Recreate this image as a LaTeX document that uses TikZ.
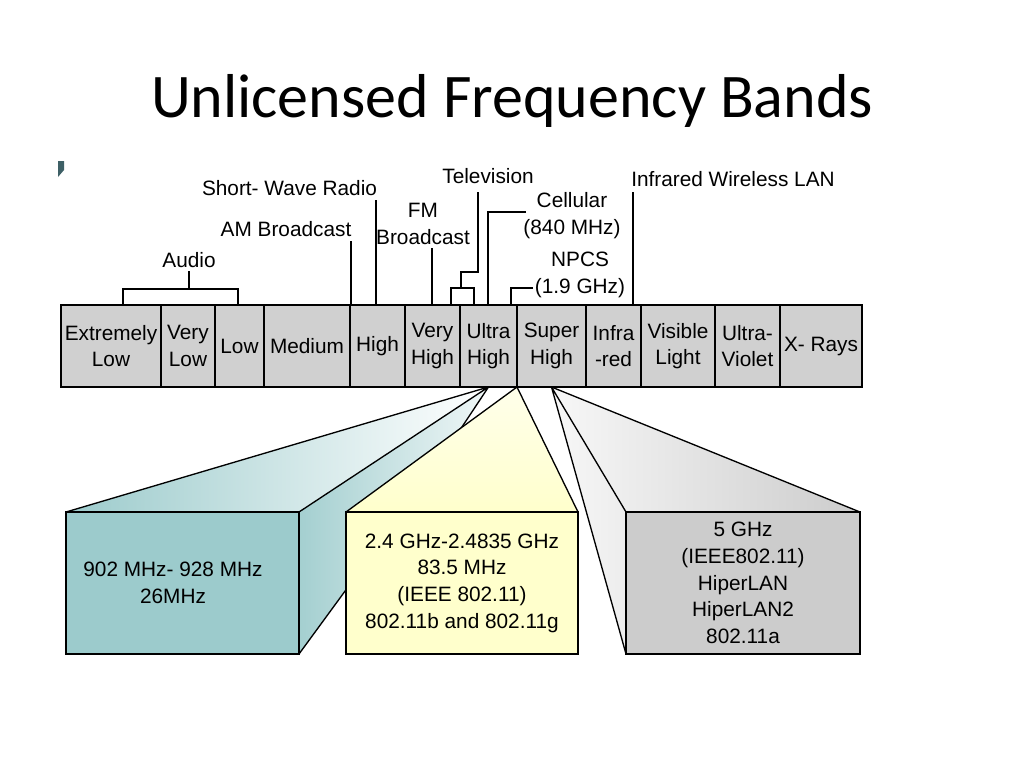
\documentclass[tikz,border=0pt]{standalone}
\usepackage{fontspec}
\setmainfont{Liberation Sans}
\newfontfamily\titlefont{Carlito}
\usetikzlibrary{positioning,backgrounds}

\definecolor{cellgray}{RGB}{208,208,208}
\definecolor{tealbox}{RGB}{156,203,204}
\definecolor{yellowbox}{RGB}{255,255,204}
\definecolor{graybox}{RGB}{204,204,204}
\definecolor{bulletteal}{RGB}{62,96,102}

\tikzset{
  band/.style={draw, fill=cellgray, line width=1pt, inner sep=0pt, outer sep=0pt, align=center, minimum height=61.5pt},
  front/.style={draw, line width=1pt, inner sep=0pt, outer sep=0pt, minimum height=106.5pt},
  tag/.style={inner sep=3pt, align=center},
  lead/.style={line width=1pt},
  edge/.style={line width=1pt, line join=round},
}

\begin{document}
\begin{tikzpicture}[x=0.75pt, y={(0,-0.75pt)}, font=\fontsize{15.6}{20}\selectfont]
\useasboundingbox (0,0) rectangle (1024,768);

% Title and bullet
\node[anchor=base, inner sep=0pt, font=\titlefont\fontsize{46.5}{50}\selectfont] (title) at (512,117) {Unlicensed Frequency Bands};
\fill[bulletteal] (58,161) -- (64,161) -- (64,170) -- (58,177) -- cycle;

% Spectrum bar
\foreach \lx/\rx/\n/\txt in {61/161/elf/{Extremely\\Low}, 161/215/vlf/{Very\\Low}, 215/264/lf/Low,
    264/350/mf/Medium, 350/405/hf/High, 405/460/vhf/{Very\\High}, 460/517/uhf/{Ultra\\High},
    517/586/shf/{Super\\High}, 586/641/ir/{Infra\\-red}, 641/715/vis/{Visible\\Light},
    715/780/uv/{Ultra-\\Violet}, 780/862/xr/{X- Rays}}
  \node[band, minimum width={(\rx-\lx)*0.75pt}] (\n) at ({(\lx+\rx)/2},346) {\txt};

% Labels above the bar (base = last line)
\node[tag, anchor=base] (audio) at (189,267) {Audio};
\node[tag, anchor=base] (swr) at (289.5,195) {Short- Wave Radio};
\node[tag, anchor=base] (am) at (286,236) {AM Broadcast};
\node[tag, anchor=base] (fm) at (423,244) {FM\\Broadcast};
\node[tag, anchor=base] (tv) at (488,183) {Television};
\node[tag, anchor=base] (cell) at (572,234) {Cellular\\(840 MHz)};
\node[tag, anchor=base] (npcs) at (580,293) {NPCS\\(1.9 GHz)};
\node[tag, anchor=base] (irlan) at (733,186) {Infrared Wireless LAN};

% Leads down to the bar
\coordinate (audioL) at (123,289);
\coordinate (audioR) at (238,289);
\draw[lead] (audioL |- elf.north) -- (audioL) -- (audioR) -- (audioR |- lf.north);
\draw[lead] (audio.south) -- (audio.south |- audioL);
\coordinate (swrlead) at (376,200);
\draw[lead] (swrlead) -- (swrlead |- hf.north);
\coordinate (amlead) at (351,241);
\draw[lead] (amlead) -- (amlead |- hf.north);
\coordinate (fmlead) at (432,248);
\draw[lead] (fmlead) -- (fmlead |- vhf.north);
\coordinate (tvlead) at (478,192);
\draw[lead] (tvlead) -- (478,272) -- (461,272) -- (461,288);
\draw[lead] (451,288 |- vhf.north) -- (451,288) -- (474,288) -- (474,288 |- uhf.north);
\coordinate (celllead) at (526,212);
\draw[lead] (celllead) -- (488,212) -- (488,212 |- uhf.north);
\coordinate (npcslead) at (533,288);
\draw[lead] (npcslead) -- (511,288) -- (511,288 |- uhf.north);
\coordinate (irlead) at (633,192);
\draw[lead] (irlead) -- (irlead |- ir.north);

% Unlicensed bands, front faces
\node[front, fill=tealbox, minimum width=174.75pt] (ism) at (182.5,583) {};
\node[tag] (ismtext) at (173,583) {902 MHz- 928 MHz\\26MHz};
\node[front, fill=yellowbox, minimum width=174pt] (wifi) at (462,583) {};
\node[tag] (wifitext) at (462,583) {2.4 GHz-2.4835 GHz\\83.5 MHz\\(IEEE 802.11)\\802.11b and 802.11g};
\node[front, fill=graybox, minimum width=175.5pt] (unii) at (743,583) {};
\node[tag] (uniitext) at (743,583) {5 GHz\\(IEEE802.11)\\HiperLAN\\HiperLAN2\\802.11a};

% Fans from the bar to the boxes
\begin{scope}[on background layer]
  \coordinate (ismback) at (430,475);
  \shade[left color=tealbox, middle color=tealbox, right color=white]
    (ism.north west) -- (uhf.south) -- (ism.north east) -- cycle;
  \shade[left color=tealbox!92!white, right color=tealbox!15!white]
    (ism.north east) -- (uhf.south) -- (ismback) -- (ism.south east) -- cycle;
  \draw[edge] (ism.north west) -- (uhf.south) -- (ism.north east)
    (uhf.south) -- (ismback) -- (ism.south east);
  \shade[top color=yellowbox!40!white, bottom color=yellowbox]
    (wifi.north west) -- (uhf.south east) -- (wifi.north east) -- cycle;
  \draw[edge] (wifi.north west) -- (uhf.south east) -- (wifi.north east);
  \shade[left color=graybox!15!white, right color=graybox]
    (unii.north east) -- (shf.south) -- (unii.south west) -- (unii.south east) -- cycle;
  \draw[edge] (unii.north east) -- (shf.south) -- (unii.south west)
    (shf.south) -- (unii.north west);
\end{scope}
\end{tikzpicture}
\end{document}
